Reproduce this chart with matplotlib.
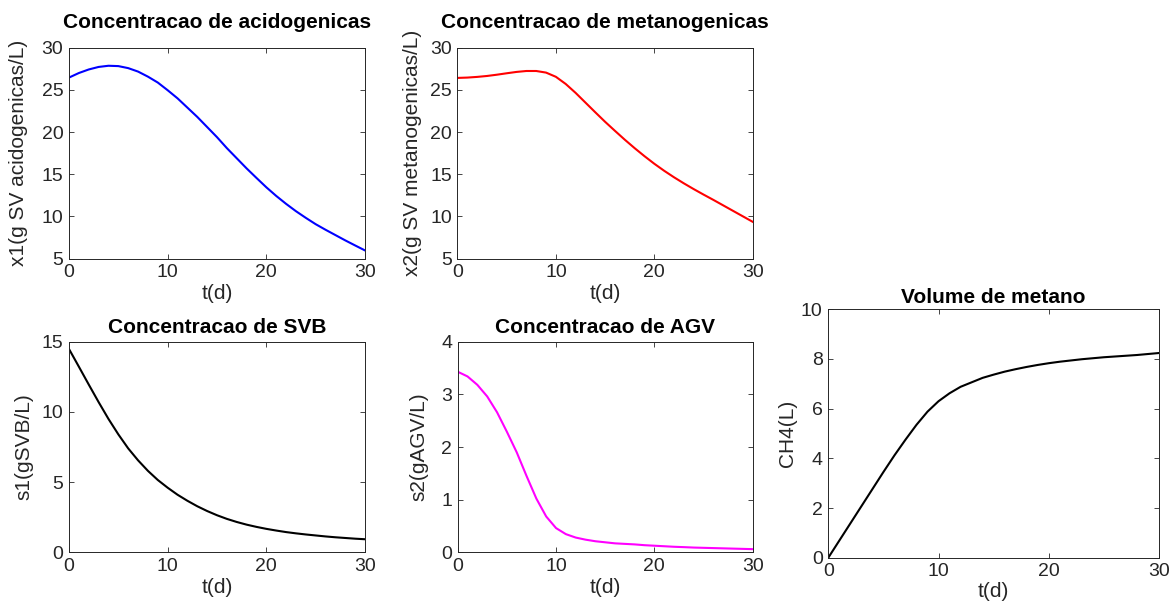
import matplotlib
matplotlib.use("Agg")
import matplotlib.pyplot as plt
from matplotlib.transforms import ScaledTranslation

plt.rcParams['font.family'] = ['Liberation Sans', 'DejaVu Sans']

t = list(range(0, 31))

x1 = [26.46, 27.0, 27.42, 27.72, 27.86, 27.82, 27.58, 27.17, 26.57, 25.87, 24.96,
      24.0, 22.9, 21.8, 20.6, 19.4, 18.1, 16.9, 15.7, 14.57, 13.46,
      12.44, 11.5, 10.63, 9.84, 9.09, 8.43, 7.8, 7.17, 6.57, 5.98]
x2 = [26.42, 26.46, 26.54, 26.65, 26.8, 26.97, 27.13, 27.24, 27.24, 27.05, 26.55,
      25.7, 24.65, 23.5, 22.35, 21.22, 20.15, 19.1, 18.1, 17.15, 16.25,
      15.42, 14.65, 13.93, 13.25, 12.6, 11.97, 11.32, 10.67, 10.02, 9.37]
s1 = [14.48, 13.22, 11.95, 10.7, 9.5, 8.4, 7.4, 6.55, 5.8, 5.15, 4.6,
      4.1, 3.67, 3.28, 2.94, 2.64, 2.38, 2.16, 1.97, 1.81, 1.67,
      1.55, 1.44, 1.35, 1.27, 1.2, 1.13, 1.07, 1.02, 0.97, 0.93]
s2 = [3.43, 3.34, 3.18, 2.96, 2.66, 2.29, 1.9, 1.45, 1.02, 0.68, 0.46,
      0.345, 0.28, 0.24, 0.21, 0.19, 0.17, 0.16, 0.15, 0.135, 0.125,
      0.115, 0.105, 0.098, 0.09, 0.085, 0.08, 0.075, 0.07, 0.065, 0.06]
ch4 = [0.0, 0.69, 1.38, 2.07, 2.76, 3.45, 4.12, 4.75, 5.35, 5.88, 6.3,
       6.62, 6.88, 7.06, 7.24, 7.37, 7.49, 7.59, 7.68, 7.76, 7.83,
       7.89, 7.94, 7.99, 8.03, 8.07, 8.1, 8.13, 8.16, 8.2, 8.24]

xticks = [0, 10, 20, 30]

panels = [
    dict(y=x1, color=(0, 0, 1), title='Concentracao de acidogenicas',
         ylabel='x1(g SV acidogenicas/L)', ylim=(5, 30), yticks=[5, 10, 15, 20, 25, 30],
         pos=[69, 47.7, 365, 258.7], tpad=19.5, ylx=-40.5, xlb=40.5),
    dict(y=x2, color=(1, 0, 0), title='Concentracao de metanogenicas',
         ylabel='x2(g SV metanogenicas/L)', ylim=(5, 30), yticks=[5, 10, 15, 20, 25, 30],
         pos=[457.5, 47.7, 752.7, 258.7], tpad=19.5, ylx=-35.5, xlb=40.5),
    dict(y=s1, color=(0, 0, 0), title='Concentracao de SVB',
         ylabel='s1(gSVB/L)', ylim=(0, 15), yticks=[0, 5, 10, 15],
         pos=[69, 341.7, 365, 552.3], tpad=9, ylx=-35.5, xlb=41),
    dict(y=s2, color=(1, 0, 1), title='Concentracao de AGV',
         ylabel='s2(gAGV/L)', ylim=(0, 4), yticks=[0, 1, 2, 3, 4],
         pos=[457.7, 341.7, 752.7, 552.3], tpad=9, ylx=-29.2, xlb=41),
    dict(y=ch4, color=(0, 0, 0), title='Volume de metano',
         ylabel='CH4(L)', ylim=(0, 10), yticks=[0, 2, 4, 6, 8, 10],
         pos=[828.3, 309.3, 1159, 557.7], tpad=6, ylx=-31.3, xlb=39.6),
]

W, H, DPI = 1176, 604, 100
fig = plt.figure(figsize=(W / DPI, H / DPI), dpi=DPI)
axcol = (0.15, 0.15, 0.15)
for p in panels:
    l, tp, r, b = p['pos']
    ax = fig.add_axes([l / W, (H - b) / H, (r - l) / W, (b - tp) / H])
    ax.plot(t, p['y'], color=p['color'], lw=1.5)
    ax.set_xlim(0, 30)
    ax.set_ylim(*p['ylim'])
    ax.set_xticks(xticks)
    ax.set_yticks(p['yticks'])
    ax.tick_params(direction='in', top=True, right=True, labelsize=14,
                   colors=axcol, length=3.5, width=0.6)
    ax.tick_params(axis='x', pad=4)
    ax.tick_params(axis='y', pad=4)
    for sp in ax.spines.values():
        sp.set_color(axcol)
        sp.set_linewidth(0.7)
    ax.set_title(p['title'], fontsize=15, fontweight='bold', pad=p['tpad'] * 72 / DPI)
    xl = ax.set_xlabel('t(d)', fontsize=15, color=axcol)
    xl.set_va('baseline')
    ax.xaxis.set_label_coords(0.5, 0, transform=ax.transAxes +
                              ScaledTranslation(0, -p['xlb'] / DPI, fig.dpi_scale_trans))
    ax.set_ylabel(p['ylabel'], fontsize=15, color=axcol)
    ax.yaxis.set_label_coords(0, 0.5, transform=ax.transAxes +
                              ScaledTranslation(p['ylx'] / DPI, 0, fig.dpi_scale_trans))

fig.savefig('out.png', dpi=DPI)
